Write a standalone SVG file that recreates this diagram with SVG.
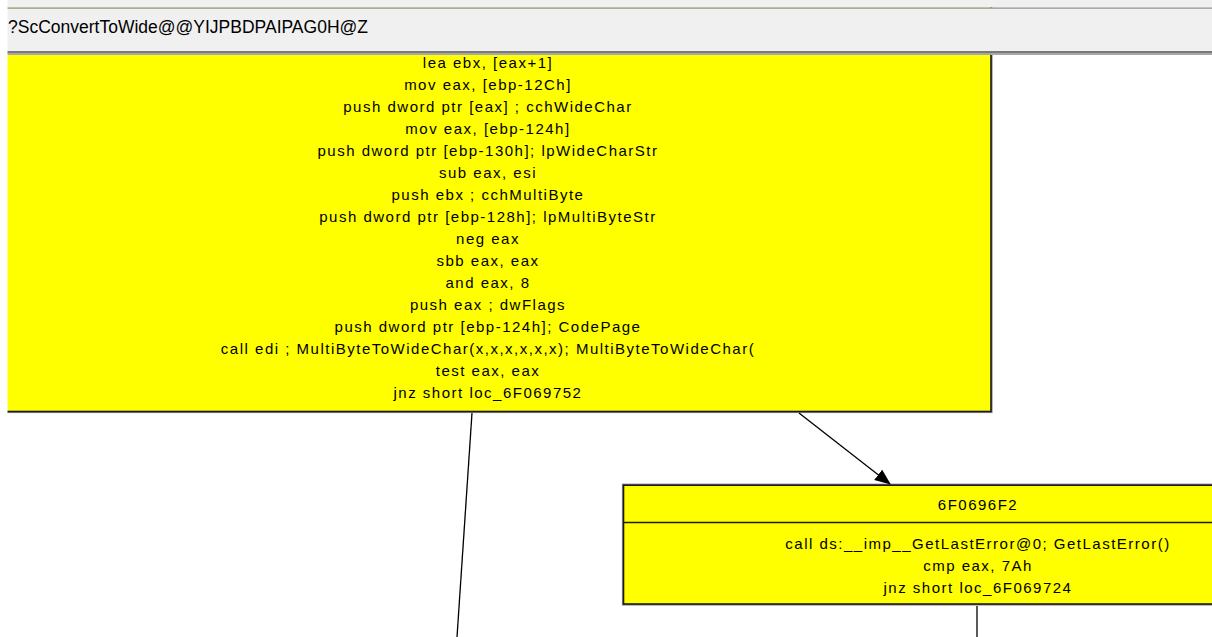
<svg xmlns="http://www.w3.org/2000/svg" width="1212" height="637" viewBox="0 0 1212 637">
<style>
.t{font-family:"Liberation Sans",Arial,sans-serif;font-size:15px;letter-spacing:1.5px;fill:#000;text-anchor:middle}
.ttl{font-family:"Liberation Sans",Arial,sans-serif;font-size:17.5px;fill:#000}
.halo{fill:none;stroke:#8c8c8c;stroke-width:3.2}
.box{fill:#ffff00;stroke:#1a1a1a;stroke-width:1.6}
.sep{stroke:#1a1a1a;stroke-width:1.6}
.edge{stroke:#000;stroke-width:1.3;fill:none}
</style>
<defs>
<marker id="arr" markerUnits="userSpaceOnUse" markerWidth="16" markerHeight="14" refX="15" refY="6.5" orient="auto">
<path d="M0,0 L16,6.5 L0,13 z" fill="#000"/>
</marker>
</defs>
<rect x="0" y="0" width="1212" height="637" fill="#fff"/>
<g id="node-main">
<rect class="halo" x="-17" y="-20" width="1008" height="431.5"/>
<rect class="box" x="-17" y="-20" width="1008" height="431.5"/>
<text class="t" x="488" y="67.5">lea ebx, [eax+1]</text>
<text class="t" x="488" y="89.5">mov eax, [ebp-12Ch]</text>
<text class="t" x="488" y="111.6">push dword ptr [eax] ; cchWideChar</text>
<text class="t" x="488" y="133.6">mov eax, [ebp-124h]</text>
<text class="t" x="488" y="155.7">push dword ptr [ebp-130h]; lpWideCharStr</text>
<text class="t" x="488" y="177.7">sub eax, esi</text>
<text class="t" x="488" y="199.8">push ebx ; cchMultiByte</text>
<text class="t" x="488" y="221.8">push dword ptr [ebp-128h]; lpMultiByteStr</text>
<text class="t" x="488" y="243.9">neg eax</text>
<text class="t" x="488" y="265.9">sbb eax, eax</text>
<text class="t" x="488" y="288">and eax, 8</text>
<text class="t" x="488" y="310">push eax ; dwFlags</text>
<text class="t" x="488" y="332.1">push dword ptr [ebp-124h]; CodePage</text>
<text class="t" x="488" y="354.1">call edi ; MultiByteToWideChar(x,x,x,x,x,x); MultiByteToWideChar(</text>
<text class="t" x="488" y="376.2">test eax, eax</text>
<text class="t" x="488" y="398.2">jnz short loc_6F069752</text>
</g>
<g id="node-6F0696F2">
<rect class="halo" x="623.5" y="485.2" width="708" height="118.8"/>
<rect class="box" x="623.5" y="485.2" width="708" height="118.8"/>
<line class="sep" x1="623.5" y1="522.5" x2="1212" y2="522.5"/>
<text class="t" x="978" y="509.5">6F0696F2</text>
<text class="t" x="978" y="548.5">call ds:__imp__GetLastError@0; GetLastError()</text>
<text class="t" x="978" y="570.5">cmp eax, 7Ah</text>
<text class="t" x="978" y="592.5">jnz short loc_6F069724</text>
</g>
<g id="connectors">
<line class="edge" x1="799" y1="413" x2="890" y2="484" marker-end="url(#arr)"/>
<line class="edge" x1="472" y1="413" x2="457" y2="637"/>
<line class="edge" x1="977" y1="606" x2="977" y2="637"/>
</g>
<g id="titlebar">
<rect x="0" y="0" width="1212" height="7.3" fill="#f0f0f0"/>
<rect x="0" y="7.3" width="1212" height="1.7" fill="#ababab"/>
<rect x="0" y="9" width="1212" height="42" fill="#f0f0f0"/>
<rect x="0" y="51" width="1212" height="2" fill="#7a7a7a"/>
<rect x="0" y="53" width="1212" height="2" fill="#a8a8a8"/>
<text class="ttl" x="8" y="33">?ScConvertToWide@@YIJPBDPAIPAG0H@Z</text>
</g>
<rect x="0" y="0" width="7.5" height="637" fill="#fff"/>
</svg>
